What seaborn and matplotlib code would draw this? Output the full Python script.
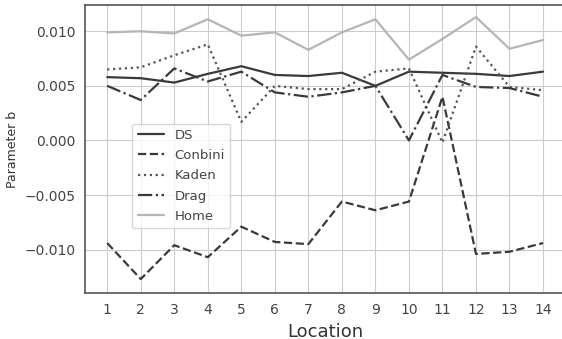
import matplotlib
matplotlib.use("Agg")
import matplotlib.pyplot as plt
import seaborn as sns
import pandas as pd

locations = list(range(1, 15))
ds = [0.0058, 0.0057, 0.0053, 0.0061, 0.0068, 0.0060, 0.0059, 0.0062, 0.0050, 0.0063, 0.0062, 0.0061, 0.0059, 0.0063]
conbini = [-0.0094, -0.0127, -0.0096, -0.0107, -0.0079, -0.0093, -0.0095, -0.0056, -0.0064, -0.0056, 0.0040, -0.0104, -0.0102, -0.0094]
kaden = [0.0065, 0.0067, 0.0078, 0.0088, 0.0017, 0.0050, 0.0047, 0.0047, 0.0063, 0.0066, -0.0002, 0.0086, 0.0049, 0.0046]
drag = [0.0050, 0.0037, 0.0066, 0.0054, 0.0063, 0.0044, 0.0040, 0.0044, 0.0050, 0.0000, 0.0060, 0.0049, 0.0048, 0.0040]
home = [0.0099, 0.0100, 0.0098, 0.0111, 0.0096, 0.0099, 0.0083, 0.0099, 0.0111, 0.0074, 0.0093, 0.0113, 0.0084, 0.0092]

series_names = ["DS", "Conbini", "Kaden", "Drag", "Home"]
series_vals = [ds, conbini, kaden, drag, home]
ytick_vals = [-0.010, -0.005, 0.0, 0.005, 0.010]
ytick_labels = ["\u22120.010", "\u22120.005", "0.000", "0.005", "0.010"]

sns.set_style("whitegrid", {"axes.edgecolor": "#555555", "grid.color": "#cccccc"})

fig, ax = plt.subplots(figsize=(5.62, 3.39), dpi=100)
fig.subplots_adjust(left=0.152, right=1.005, top=0.985, bottom=0.135)

styles = {"DS": ("#3a3a3a", "-"), "Conbini": ("#3a3a3a", "--"), "Kaden": ("#555555", ":"),
          "Drag": ("#3a3a3a", "-."), "Home": ("#b5b5b5", "-")}

for name, vals in zip(series_names, series_vals):
    df = pd.DataFrame({"Location": locations, "b": vals})
    c, ls = styles[name]
    sns.lineplot(data=df, x="Location", y="b", ax=ax, color=c, linestyle=ls, linewidth=1.6, label=name)

ax.set_xlim(0.35, 14.65)
ax.set_xticks(locations)
ax.set_xticklabels([str(v) for v in locations])
ax.set_ylim(-0.0140, 0.0124)
ax.set_yticks(ytick_vals)
ax.set_yticklabels(ytick_labels)
ax.tick_params(labelsize=10, colors="#444444")
ax.set_xlabel("Location", fontsize=13, color="#333333")
ax.set_ylabel("Parameter b", fontsize=9, color="#333333")
for s in ax.spines.values():
    s.set_linewidth(1.2)
leg = ax.legend(loc="lower left", bbox_to_anchor=(0.084, 0.203), fontsize=9.5, frameon=True,
                handlelength=2.0, labelspacing=0.55)
for t in leg.get_texts():
    t.set_color("#444444")

fig.savefig("out.png", dpi=100)
